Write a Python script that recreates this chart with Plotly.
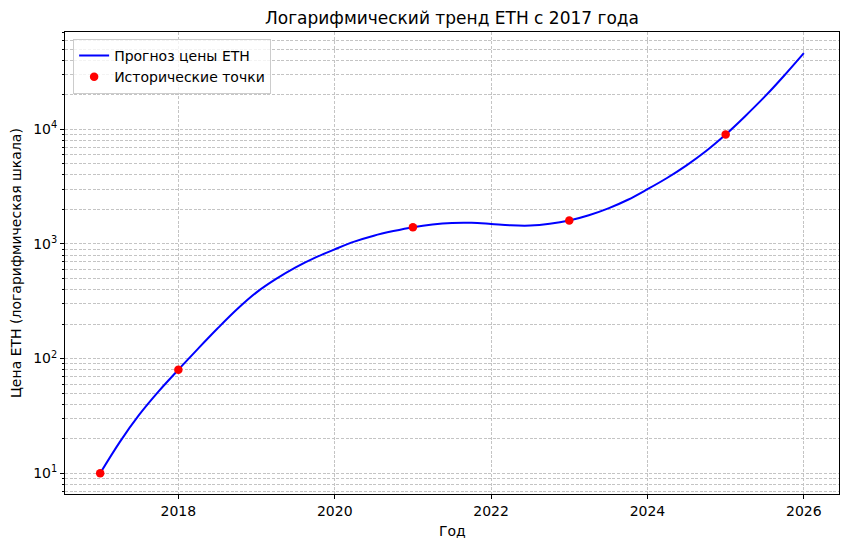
import plotly.graph_objects as go

# Historical points
hist_years = [2017, 2018, 2021, 2023, 2025]
hist_prices = [10, 80, 1400, 1600, 9000]

# Trend curve values (quarter-year steps)
trend_years = [2017.00, 2017.25, 2017.50, 2017.75, 2018.00, 2018.25, 2018.50, 2018.75,
               2019.00, 2019.25, 2019.50, 2019.75, 2020.00, 2020.25, 2020.50, 2020.75,
               2021.00, 2021.25, 2021.50, 2021.75, 2022.00, 2022.25, 2022.50, 2022.75,
               2023.00, 2023.25, 2023.50, 2023.75, 2024.00, 2024.25, 2024.50, 2024.75,
               2025.00, 2025.25, 2025.50, 2025.75, 2026.00]
trend_prices = [10, 18.7, 32.4, 52.0, 80, 121.6, 182.8, 269,
                378, 495, 624, 759, 897, 1047, 1180, 1294,
                1400, 1479, 1524, 1528, 1493, 1452, 1445, 1496,
                1600, 1778, 2042, 2427, 2999, 3758, 4842, 6457,
                8995, 13002, 19231, 29444, 46132]

x_ticks = [2018, 2020, 2022, 2024, 2026]
y_ticks = [10, 100, 1000, 10000]
y_tick_labels = ["10<sup>1</sup>", "10<sup>2</sup>", "10<sup>3</sup>", "10<sup>4</sup>"]
y_minor = [m * 10 ** e for e in range(0, 5) for m in range(2, 10)]

title = "Логарифмический тренд ETH с 2017 года"
x_label = "Год"
y_label = "Цена ETH (логарифмическая шкала)"
line_name = "Прогноз цены ETH"
points_name = "Исторические точки"

FONT = "DejaVu Sans"
GRID = "#c4c4c4"
DASH = "3px,1.6px"
FS = 14

fig = go.Figure()
fig.add_trace(go.Scatter(
    x=trend_years, y=trend_prices, mode="lines", name=line_name,
    line=dict(color="blue", width=2, shape="spline", smoothing=1.0),
))
fig.add_trace(go.Scatter(
    x=hist_years, y=hist_prices, mode="markers", name=points_name,
    marker=dict(color="red", size=8.5, line=dict(width=0)),
))

fig.update_layout(
    width=849, height=547,
    margin=dict(l=65, r=10, t=32, b=53, autoexpand=False),
    paper_bgcolor="white", plot_bgcolor="white",
    font=dict(family=FONT, size=FS, color="black"),
    title=dict(text=title, x=452 / 849, xanchor="center", y=1 - 18 / 547, yanchor="middle",
               yref="container", font=dict(family=FONT, size=17, color="black")),
    showlegend=True,
    legend=dict(x=0.0105, y=0.985, xanchor="left", yanchor="top",
                bgcolor="rgba(255,255,255,0.8)", bordercolor="#cccccc", borderwidth=1,
                font=dict(family=FONT, size=FS), tracegroupgap=0, itemwidth=30),
)

fig.update_xaxes(
    range=[2016.55, 2026.45], tickvals=x_ticks, ticktext=[str(v) for v in x_ticks],
    ticks="outside", ticklen=4, tickwidth=1, tickcolor="black",
    showline=True, linecolor="black", linewidth=1, mirror=True,
    showgrid=True, gridcolor=GRID, gridwidth=1, griddash=DASH,
    zeroline=False, tickfont=dict(family=FONT, size=FS), automargin=False,
)
fig.update_yaxes(
    type="log", range=[0.819, 4.848], tickvals=y_ticks, ticktext=y_tick_labels,
    ticks="outside", ticklen=4, tickwidth=1, tickcolor="black",
    showline=True, linecolor="black", linewidth=1, mirror=True,
    showgrid=True, gridcolor=GRID, gridwidth=1, griddash=DASH,
    zeroline=False, tickfont=dict(family=FONT, size=FS), automargin=False,
    minor=dict(tickvals=y_minor, ticks="outside", ticklen=2, tickcolor="black",
               showgrid=True, gridcolor=GRID, gridwidth=1, griddash=DASH),
)

fig.add_annotation(text=x_label, xref="paper", yref="paper", x=0.5, y=0,
                   yshift=-37, yanchor="middle", showarrow=False,
                   font=dict(family=FONT, size=FS))
fig.add_annotation(text=y_label, xref="paper", yref="paper", x=0, y=0.5,
                   xshift=-49, xanchor="center", textangle=-90, showarrow=False,
                   font=dict(family=FONT, size=FS))

fig.write_html("out.html", config={"displayModeBar": False},
               post_script="document.body.style.margin='0';")
